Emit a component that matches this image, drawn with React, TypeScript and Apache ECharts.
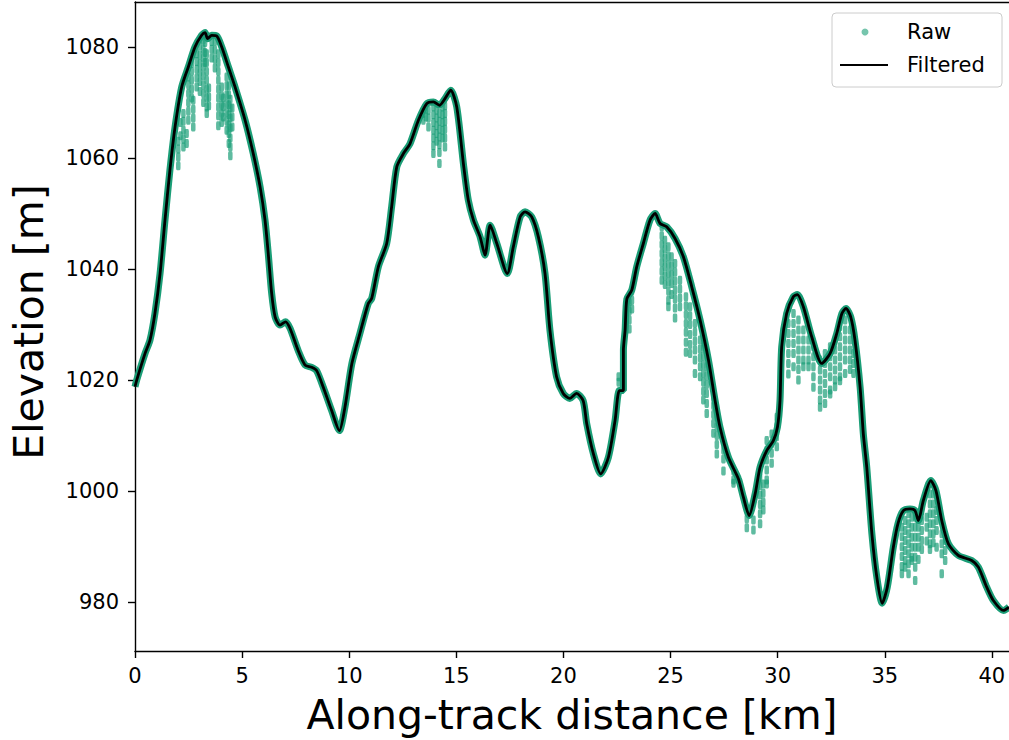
import React, { useEffect, useRef } from "react";
import * as echarts from "echarts";

// Filtered along-track elevation profile [km, m]
const filtered: number[][] = [
  [0, 1018.8], [0.08, 1020.0], [0.47, 1024.8], [0.70, 1027.2], [0.93, 1032.0], [1.17, 1039.2],
  [1.40, 1048.8], [1.63, 1057.8], [1.87, 1065.6], [2.18, 1072.8], [2.49, 1076.4], [2.80, 1080.0],
  [3.11, 1082.1], [3.27, 1082.6], [3.39, 1081.5], [3.58, 1082.1], [3.81, 1082.0], [4.05, 1080.0],
  [4.36, 1076.4], [4.67, 1072.8], [5.14, 1066.8], [5.52, 1060.8], [5.84, 1054.8], [6.07, 1048.8],
  [6.22, 1042.8], [6.38, 1035.6], [6.54, 1031.4], [6.77, 1029.9], [7.03, 1030.5], [7.24, 1029.3],
  [7.63, 1025.2], [7.94, 1022.7], [8.25, 1022.3], [8.48, 1021.7], [8.79, 1018.7], [9.18, 1014.5],
  [9.54, 1010.9], [9.80, 1015.1], [10.12, 1022.9], [10.50, 1028.4], [10.89, 1033.8], [11.05, 1034.7],
  [11.36, 1040.4], [11.75, 1044.6], [11.98, 1051.2], [12.22, 1058.4], [12.53, 1060.8], [12.84, 1062.6],
  [13.23, 1066.8], [13.62, 1069.8], [13.93, 1070.1], [14.21, 1069.5], [14.47, 1070.7], [14.74, 1072.2],
  [15.02, 1069.2], [15.33, 1059.0], [15.56, 1052.4], [15.80, 1048.8], [16.11, 1045.8], [16.34, 1042.5],
  [16.58, 1047.9], [16.89, 1044.6], [17.38, 1039.2], [17.66, 1044.0], [17.98, 1049.4], [18.21, 1050.3],
  [18.52, 1049.4], [18.83, 1045.8], [19.14, 1039.2], [19.37, 1029.0], [19.68, 1020.6], [19.99, 1017.6],
  [20.30, 1016.7], [20.61, 1017.6], [20.92, 1016.3], [21.09, 1012.1], [21.40, 1006.7], [21.74, 1003.1],
  [22.10, 1006.1], [22.41, 1012.7], [22.61, 1018.1], [22.80, 1018.1], [22.80, 1025.4], [22.88, 1029.0],
  [22.96, 1034.6], [23.19, 1036.2], [23.42, 1040.4], [23.73, 1044.6], [24.04, 1048.8], [24.28, 1050.0],
  [24.51, 1048.2], [24.82, 1047.6], [25.21, 1045.5], [25.60, 1042.2], [25.99, 1036.8], [26.38, 1030.8],
  [26.77, 1023.6], [27.08, 1016.3], [27.31, 1011.5], [27.70, 1006.1], [28.17, 1002.2], [28.40, 998.9],
  [28.67, 995.6], [28.95, 999.5], [29.18, 1004.3], [29.49, 1007.3], [29.80, 1009.1], [29.99, 1011.5],
  [30.11, 1016.3], [30.19, 1026.0], [30.42, 1032.0], [30.73, 1035.0], [30.92, 1035.4], [31.20, 1033.2],
  [31.59, 1027.8], [32.06, 1023.0], [32.45, 1024.8], [32.76, 1028.4], [33.00, 1032.0], [33.19, 1032.9],
  [33.41, 1031.4], [33.61, 1027.2], [33.85, 1018.7], [34.00, 1010.3], [34.16, 1004.3], [34.40, 992.3],
  [34.63, 984.5], [34.88, 979.8], [35.12, 982.7], [35.40, 989.9], [35.62, 994.2], [35.87, 996.5],
  [36.18, 996.8], [36.41, 996.5], [36.57, 994.7], [36.80, 998.3], [37.15, 1001.9], [37.39, 1000.1],
  [37.66, 994.7], [37.97, 990.5], [38.44, 988.4], [39.06, 987.5], [39.37, 986.3], [39.76, 982.7],
  [40.07, 980.3], [40.54, 978.5], [40.8, 979.1],
];

// Raw points that fall below the filtered surface: [km, elevations...]
const rawStreaks: number[][] = [
  [2.02, 1063.0, 1061.6, 1060.2, 1058.6],
  [2.12, 1066.4, 1064.0],
  [2.26, 1068.0, 1066.6, 1065.0, 1063.4, 1062.0],
  [2.41, 1064.4, 1062.6],
  [2.49, 1074.6, 1073.2, 1071.6, 1070.0, 1068.4, 1066.8],
  [2.65, 1077.0, 1075.6, 1074.0, 1072.4, 1070.8],
  [2.72, 1070.4, 1068.8, 1067.2, 1065.6],
  [2.88, 1078.8, 1077.4, 1076.0, 1074.4, 1072.8],
  [3.03, 1080.2, 1078.6, 1077.0, 1075.4, 1073.8, 1072.0],
  [3.19, 1081.2, 1079.6, 1078.0, 1076.4, 1074.8, 1073.2, 1071.6, 1070.0],
  [3.27, 1080.8, 1079.0, 1077.2],
  [3.35, 1078.8, 1077.2, 1075.6, 1074.0, 1072.4, 1070.8, 1069.2, 1068.0],
  [3.45, 1072.6, 1071.0, 1069.4],
  [3.58, 1081.0, 1079.6, 1078.0],
  [3.73, 1081.0, 1079.4, 1077.8, 1076.2],
  [3.89, 1078.8, 1077.2, 1075.6, 1074.0, 1072.4, 1070.8, 1069.2, 1067.6, 1065.8],
  [4.05, 1072.8, 1071.2, 1069.6, 1068.0, 1066.4],
  [4.12, 1070.8, 1069.2, 1067.4],
  [4.28, 1074.6, 1073.0, 1071.4, 1069.8, 1068.2, 1066.6, 1065.0],
  [4.38, 1073.0, 1071.4, 1069.6, 1067.8, 1066.0, 1064.4, 1062.6],
  [4.45, 1070.6, 1069.0, 1067.2, 1065.4, 1063.6, 1062.0, 1060.4],
  [4.54, 1069.0, 1067.4, 1065.6],
  [13.46, 1068.0, 1066.8],
  [13.58, 1068.8, 1067.4],
  [13.70, 1068.6, 1067.2, 1065.6],
  [13.93, 1069.2, 1067.8, 1066.4, 1065.0, 1063.6, 1062.2, 1060.8],
  [14.08, 1068.6, 1067.2, 1065.8, 1064.4, 1063.0],
  [14.21, 1068.0, 1066.6, 1065.2, 1063.8, 1062.4, 1061.0, 1059.0],
  [14.36, 1069.2, 1067.8, 1066.4, 1065.0, 1063.6],
  [14.47, 1069.4, 1068.0, 1066.6, 1065.2, 1063.6, 1062.0],
  [22.58, 1019.6, 1020.6],
  [23.08, 1034.0, 1032.4, 1030.8, 1029.2],
  [23.20, 1036.0, 1034.4, 1032.8],
  [24.59, 1047.6, 1046.0, 1044.4, 1042.8, 1041.2, 1039.6, 1038.0],
  [24.74, 1045.2, 1043.6, 1042.0, 1040.4, 1038.8, 1037.2],
  [24.90, 1044.0, 1042.4, 1040.8, 1039.2, 1037.6, 1036.0, 1034.4, 1033.2],
  [25.05, 1042.2, 1040.6, 1039.0, 1037.4, 1035.4],
  [25.21, 1041.0, 1039.4, 1037.8, 1036.2, 1034.6, 1033.0, 1031.2],
  [25.44, 1038.0, 1036.4, 1034.8, 1033.2],
  [25.72, 1035.0, 1033.4, 1031.8, 1030.2, 1028.6, 1026.8, 1025.0],
  [25.91, 1033.2, 1031.6, 1030.0, 1028.2, 1026.4, 1024.8],
  [26.14, 1030.2, 1028.6, 1027.0, 1025.4, 1023.6, 1021.2],
  [26.38, 1027.2, 1025.6, 1024.0, 1022.4, 1020.6],
  [26.53, 1026.0, 1024.4, 1022.8, 1021.2, 1019.6, 1018.0, 1016.4],
  [26.69, 1022.4, 1020.8, 1019.2, 1017.6, 1015.8, 1014.0],
  [27.00, 1017.0, 1015.4, 1013.8, 1012.2, 1010.4],
  [27.16, 1013.3, 1011.6, 1010.0, 1008.4, 1006.7],
  [27.47, 1007.4, 1005.8, 1003.6],
  [27.94, 1003.6, 1002.0, 1001.4],
  [28.56, 996.5, 995.0, 993.4],
  [28.87, 994.8, 993.0],
  [29.18, 1004.3, 1002.6, 1001.0, 999.3, 997.6, 995.9, 994.1],
  [29.33, 1001.3, 999.6, 998.0, 996.6],
  [29.49, 1009.1, 1007.4, 1005.6, 1003.8, 1002.0, 1001.3],
  [29.72, 1010.3, 1008.5, 1006.8, 1005.0],
  [29.96, 1013.3, 1011.6, 1009.8, 1008.0],
  [30.50, 1030.2, 1028.4, 1026.6, 1024.8, 1023.0, 1021.1],
  [30.74, 1032.0, 1030.2, 1028.4, 1026.6, 1024.8, 1022.4],
  [30.97, 1030.8, 1029.0, 1027.2, 1025.4, 1023.6, 1021.9, 1020.0],
  [31.20, 1029.0, 1027.2, 1025.4, 1023.6, 1022.4],
  [31.44, 1027.2, 1025.4, 1023.6, 1022.4],
  [31.67, 1026.0, 1024.2, 1022.4, 1020.6, 1018.7],
  [31.98, 1023.6, 1021.8, 1020.0, 1018.2, 1016.4, 1015.1],
  [32.21, 1024.8, 1023.0, 1021.2, 1019.4, 1017.6, 1015.8],
  [32.45, 1026.0, 1024.2, 1022.4, 1020.6, 1018.2, 1017.5],
  [32.68, 1027.2, 1025.4, 1023.6, 1021.8, 1020.0, 1018.8],
  [32.91, 1029.6, 1027.8, 1026.0, 1024.2, 1022.4, 1020.6, 1019.9],
  [33.15, 1030.8, 1029.0, 1027.2, 1025.4, 1023.6, 1021.2],
  [33.38, 1029.0, 1027.2, 1025.4, 1023.6, 1021.9],
  [33.54, 1024.8, 1023.0, 1021.2],
  [35.80, 993.5, 991.8, 990.0, 988.2, 986.4, 985.1],
  [35.95, 994.7, 992.9, 991.1, 989.3, 987.5, 986.3],
  [36.11, 995.9, 994.1, 992.3, 990.5, 988.7, 986.9, 985.1],
  [36.26, 995.3, 993.5, 991.7, 989.9, 988.1, 987.5],
  [36.42, 995.3, 993.5, 991.7, 989.9, 988.1, 986.3, 983.9],
  [36.57, 993.5, 991.7, 989.9, 987.7],
  [36.73, 994.7, 992.9, 991.1, 989.5],
  [36.96, 995.3, 993.5, 991.0],
  [37.11, 999.5, 997.7, 995.9, 994.1, 992.3, 990.5, 989.5],
  [37.27, 999.5, 997.7, 995.9, 994.1, 992.3, 990.7],
  [37.42, 996.5, 994.7, 992.9, 989.9],
  [37.66, 992.3, 990.5, 988.7, 985.1],
  [37.82, 991.1, 989.3, 987.5],
];

const xTicks = [0, 5, 10, 15, 20, 25, 30, 35, 40];
const yTicks = [980, 1000, 1020, 1040, 1060, 1080];
const xRange = [0, 40.8];
const yRange = [971.2, 1088.1];

const GREEN = "#1b9e77";
const FONT = "DejaVu Sans";

export default function App() {
  const ref = useRef<HTMLDivElement>(null);
  useEffect(() => {
    document.body.style.margin = "0";
    const chart = echarts.init(ref.current!, null, { renderer: "svg" });
    const rawPoints: number[][] = [];
    rawStreaks.forEach((s) => {
      for (let i = 1; i < s.length; i++) rawPoints.push([s[0], s[i]]);
    });
    const axisCommon = {
      axisLine: { show: true, lineStyle: { color: "#000", width: 1.4 } },
      axisTick: { show: true, inside: false, length: 7, lineStyle: { color: "#000", width: 1.4 } },
      splitLine: { show: false },
    };
    chart.setOption({
      animation: false,
      backgroundColor: "#fff",
      grid: { left: 135, top: 2, right: 0, bottom: 89, containLabel: false },
      xAxis: [
        {
          type: "value",
          min: xRange[0],
          max: xRange[1],
          ...axisCommon,
          axisTick: { ...axisCommon.axisTick, customValues: xTicks },
          axisLabel: {
            customValues: xTicks,
            formatter: (v: number) => String(v),
            margin: 14,
            color: "#000",
            fontSize: 21,
            fontFamily: FONT,
          },
        },
        {
          type: "value",
          position: "top",
          min: xRange[0],
          max: xRange[1],
          axisLine: { show: true, onZero: false, lineStyle: { color: "#000", width: 1.4 } },
          axisTick: { show: false },
          axisLabel: { show: false },
          splitLine: { show: false },
        },
      ],
      yAxis: {
        type: "value",
        min: yRange[0],
        max: yRange[1],
        ...axisCommon,
        axisTick: { ...axisCommon.axisTick, customValues: yTicks },
        axisLabel: {
          customValues: yTicks,
          formatter: (v: number) => String(v),
          margin: 16,
          color: "#000",
          fontSize: 21,
          fontFamily: FONT,
        },
      },
      series: [
        {
          name: "Raw",
          type: "line",
          data: filtered,
          showSymbol: false,
          smooth: 0.25,
          lineStyle: { color: GREEN, width: 7 },
          z: 1,
        },
        {
          name: "Raw",
          type: "scatter",
          data: rawPoints,
          symbol: "roundRect",
          symbolSize: [4.5, 9],
          itemStyle: { color: GREEN, opacity: 0.7 },
          z: 2,
        },
        {
          name: "Filtered",
          type: "line",
          data: filtered,
          showSymbol: false,
          smooth: 0.25,
          lineStyle: { color: "#000", width: 2.8 },
          z: 3,
        },
      ],
      graphic: [
        {
          type: "text",
          x: 572,
          y: 715,
          style: {
            text: "Along-track distance [km]",
            fontSize: 41,
            fontFamily: FONT,
            fill: "#000",
            textAlign: "center",
            textVerticalAlign: "middle",
          },
        },
        {
          type: "text",
          x: 29,
          y: 322,
          rotation: Math.PI / 2,
          style: {
            text: "Elevation [m]",
            fontSize: 41,
            fontFamily: FONT,
            fill: "#000",
            textAlign: "center",
            textVerticalAlign: "middle",
          },
        },
        {
          type: "rect",
          shape: { x: 832, y: 13, width: 170, height: 74, r: 4 },
          style: { fill: "rgba(255,255,255,0.8)", stroke: "#cccccc", lineWidth: 1 },
          z: 10,
        },
        {
          type: "circle",
          shape: { cx: 865, cy: 32, r: 3.5 },
          style: { fill: GREEN, opacity: 0.6 },
          z: 11,
        },
        {
          type: "line",
          shape: { x1: 840, y1: 65, x2: 888, y2: 65 },
          style: { stroke: "#000", lineWidth: 2 },
          z: 11,
        },
        {
          type: "text",
          x: 907,
          y: 32,
          style: { text: "Raw", fontSize: 21, fontFamily: FONT, fill: "#000", textVerticalAlign: "middle" },
          z: 11,
        },
        {
          type: "text",
          x: 907,
          y: 65,
          style: { text: "Filtered", fontSize: 21, fontFamily: FONT, fill: "#000", textVerticalAlign: "middle" },
          z: 11,
        },
      ],
    });
    return () => chart.dispose();
  }, []);
  return <div ref={ref} style={{ width: 1009, height: 740 }} />;
}
